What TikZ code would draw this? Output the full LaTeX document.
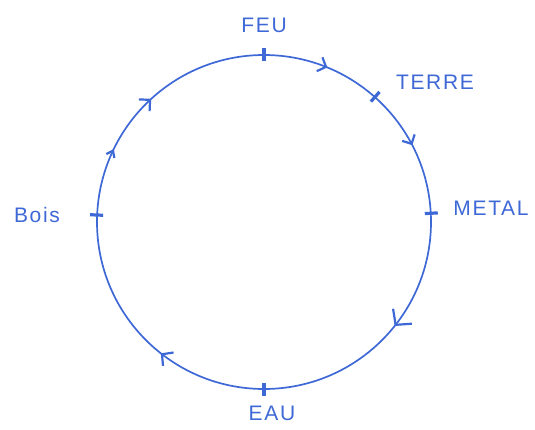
\documentclass[tikz,border=0pt]{standalone}
\usepackage{fontspec}
\setmainfont{Liberation Sans}
\usetikzlibrary{arrows.meta,decorations.markings,calc}
\definecolor{ink}{RGB}{62,104,214}
\tikzset{
  ring/.style={draw=ink,line width=1.7pt},
  ticker/.style={draw=ink,line width=3.2pt},
  lbl/.style={text=ink,font=\fontsize{21}{23}\selectfont\addfontfeatures{LetterSpace=8}},
}
\begin{document}
\begin{tikzpicture}[x=1pt,y=1pt]
\useasboundingbox (0,0) rectangle (535,429);
\coordinate (c) at (264,207);
\draw[ring,postaction={decorate},decoration={markings,
  mark=at position 0.062 with {\arrow[ink]{Straight Barb[length=7pt,width=15pt,line width=2.2pt]}},
  mark=at position 0.174 with {\arrow[ink]{Straight Barb[length=7pt,width=14pt,line width=2.2pt]}},
  mark=at position 0.357 with {\arrow[ink]{Straight Barb[length=11pt,width=24pt,line width=2.2pt]}},
  mark=at position 0.606 with {\arrow[ink]{Straight Barb[length=8pt,width=17pt,line width=2.2pt]}},
  mark=at position 0.822 with {\arrow[ink]{Straight Barb[length=6pt,width=9pt,line width=2.2pt]}},
  mark=at position 0.882 with {\arrow[ink]{Straight Barb[length=8pt,width=16pt,line width=2.2pt]}}
}] ($(c)+(90:167)$) arc[start angle=90,end angle=-270,radius=167];
% ticks
\foreach \n/\a in {feu/90,terre/48.4,metal/3,eau/-90,bois/177.6}{
  \coordinate (\n) at ($(c)+(\a:167)$);
  \draw[ticker] ($(c)+(\a:161)$) -- ($(c)+(\a:174)$);
}
\node[lbl] (lfeu) at (264,404) {FEU};
\node[lbl] (lterre) at (435,347) {TERRE};
\node[lbl] (lmetal) at (491,221) {METAL};
\node[lbl] (leau) at (272,16) {EAU};
\node[lbl] (lbois) at (37,214) {Bois};
\end{tikzpicture}
\end{document}
